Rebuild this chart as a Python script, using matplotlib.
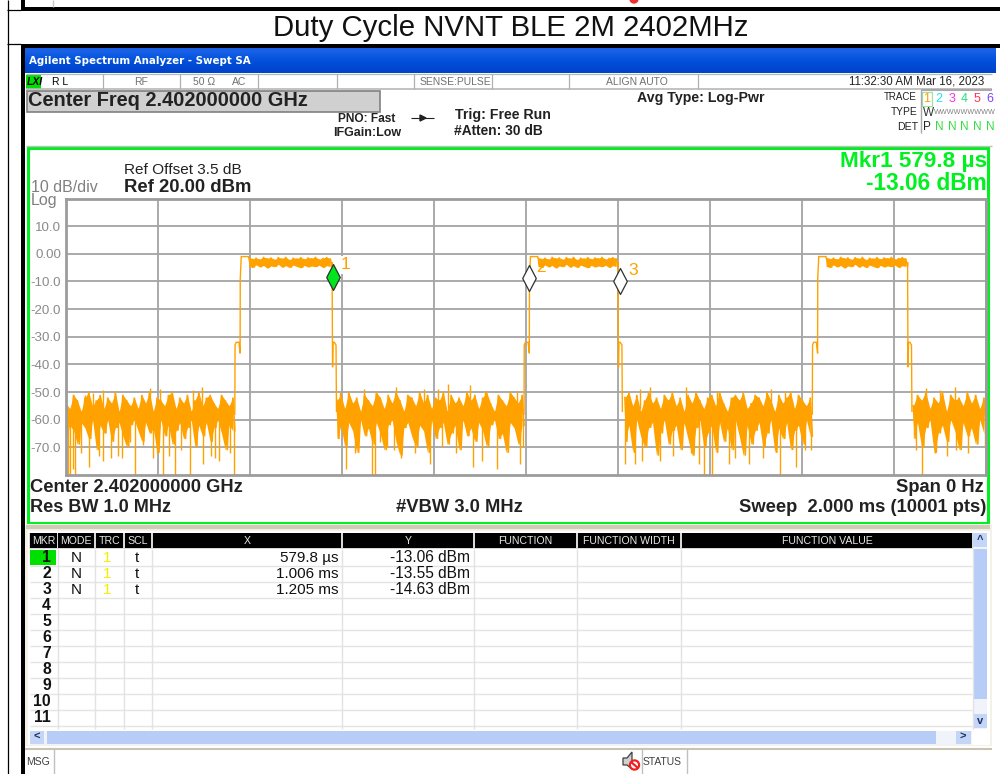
import numpy as np
import matplotlib
matplotlib.use('Agg')
import matplotlib.pyplot as plt
from matplotlib.patches import Rectangle, Polygon, Circle
from matplotlib.path import Path

plt.rcParams['font.family'] = ['Liberation Sans', 'DejaVu Sans']

W, H = 1000, 774

# plot data, time in ms and level in dBm
y_ticks = [10, 0, -10, -20, -30, -40, -50, -60, -70]
y_tick_labels = ['10.0', '0.00', '-10.0', '-20.0', '-30.0', '-40.0', '-50.0', '-60.0', '-70.0']

noise_1 = [-54, -66, -56, -62, -51, -64, -53, -69, -57, -61, -52, -63, -50, -67, -55, -60, -53, -71, -51, -62,
           -56, -65, -52, -60, -54, -68, -50, -63, -57, -61, -51, -66, -53, -70, -55, -62, -52, -60, -56, -64,
           -51, -68, -54, -61, -50, -65, -57, -63, -52, -72, -53, -60, -55, -66, -51, -62, -50, -69, -56, -64,
           -52, -61, -54, -67, -51, -63, -57, -60, -53, -70, -50, -62, -55, -66, -52, -61, -51, -68, -54, -63,
           -56, -60, -51, -65, -53, -71, -55, -62, -52, -64]
noise_2 = [-53, -67, -51, -62, -56, -70, -50, -61, -54, -64, -52, -72, -57, -60, -51, -66, -53, -63, -55, -69,
           -50, -61, -52, -65, -56, -71, -51, -62, -54, -60, -50, -68, -53, -73, -57, -63, -51, -61, -52, -66,
           -55, -70, -50, -62, -54, -64, -51, -72, -56, -60, -52, -67, -53, -63, -50, -61, -57, -69, -51, -65,
           -54, -62, -52, -71, -55, -60, -50, -66, -53, -63, -51, -68, -56, -61, -52, -64, -50, -70, -54, -62,
           -57, -60, -51, -67, -53, -65, -55, -72, -50, -61, -52, -63, -54, -69, -51, -62]
noise_3 = [-52, -68, -50, -62, -55, -72, -51, -60, -57, -66, -53, -70, -50, -63, -54, -61, -52, -73, -56, -65,
           -51, -60, -53, -69, -50, -64, -55, -62, -52, -71, -57, -61, -51, -67, -54, -73, -50, -63, -53, -60,
           -56, -70, -52, -65, -51, -62, -55, -72, -50, -61, -54, -68, -57, -63, -52, -71, -51, -60, -53, -66,
           -50, -73, -56, -62, -54, -69, -51, -64, -52, -61, -55, -70, -50, -65, -53, -60, -57, -72, -51, -63,
           -54, -67, -52, -61, -50, -71, -56, -64, -51, -62, -53, -69, -55, -60, -52, -66]
noise_4 = [-55, -67, -51, -61, -53, -70, -50, -63, -56, -60, -52, -72, -54, -65, -50, -62, -57, -68, -51, -60,
           -53, -64, -52, -71, -55, -61, -50, -66, -54, -63, -51, -69, -56, -60, -52, -65]
noise_spans = [(0.0, 0.367), (0.589, 0.9957), (1.215, 1.6224), (1.842, 2.0)]

low_spike_t = [.005, .009, .015, .020, .033, .050, .072, .080, .098, .113, .122, .139, .150, .167, .189, .198,
               .211, .224, .237, .250, .270, .298, .315, .324, .333, .357, .365,
               .608, .628, .665, .671, .683, .697, .713, .728, .759, .791, .817, .848, .884, .904, .938, .956,
               .988, .993,
               1.216, 1.238, 1.252, 1.291, 1.320, 1.358, 1.375, 1.386, 1.404, 1.441, 1.454, 1.485, 1.515, 1.552,
               1.587, 1.607, 1.620,
               1.847, 1.861, 1.889, 1.915, 1.935, 1.960, 1.998]
low_spike_db = [-80, -80, -78, -80, -72, -77, -73, -75, -74, -73, -74, -68, -80, -69, -74, -72,
                -80, -73, -80, -71, -80, -76, -73, -74, -75, -72, -80,
                -78, -72, -80, -80, -68, -70, -71, -74, -72, -76, -70, -72, -77, -75, -78, -71,
                -76, -70,
                -76, -76, -75, -75, -73, -72, -76, -80, -80, -76, -74, -76, -74, -80,
                -77, -71, -71,
                -71, -80, -72, -73, -71, -72, -70]
high_spike_t = [.041, .059, .080, .183, .204, .276, .295,
                .596, .648, .717, .778, .809, .830, .878, .911, .980,
                1.248, 1.270, 1.348, 1.415, 1.532, 1.563,
                1.870, 1.900, 1.933]
high_spike_db = [-51, -50.3, -49.4, -48.5, -49, -49.2, -48,
                 -50, -49, -48, -49, -48.8, -47, -47.6, -49.5, -49.5,
                 -49, -48, -48.2, -49.5, -48.8, -49.5,
                 -48.5, -49.4, -48]

pulse_start = [0.367, 0.9957, 1.6224]
pulse_stop = [0.5785, 1.2, 1.8295]
rise_dt = [0, .0005, .003, .009, .0115, .0118, .014, .030]
rise_db = [-58, -33, -32, -32, -36, -9, -1, -1]
fall_dt = [0, .0005, .001, .002, .005, .0085, .0095]
fall_db = [-3, -25, -41, -32, -32, -33, -57]
top_band = [-1.2, -4.5, -1.8, -5, -1.4, -4, -2, -4.8, -1.1, -4.2, -1.6, -5.2, -1.3, -4.4, -2.1, -4.7, -1.2, -3.8,
            -1.7, -4.9, -1.1, -4.3, -2.2, -5, -1.4, -4.1, -1.7, -4.6, -1.2, -5.1, -1.9, -4.2, -1.3, -4.8, -1.6, -4.4,
            -1.1, -4.7, -2, -4.1, -1.5, -5, -1.2, -4.3, -1.7, -4.6]

marker_t = [0.5798, 1.006, 1.205]
marker_db = [-13.06, -13.55, -14.63]
marker_names = ['1', '2', '3']
marker_fill = ['#00E61E', 'white', 'white']

# marker table
table_heads = ['MKR', 'MODE', 'TRC', 'SCL', 'X', 'Y', 'FUNCTION', 'FUNCTION WIDTH', 'FUNCTION VALUE']
table_x_text = ['579.8 µs', '1.006 ms', '1.205 ms']
table_y_text = ['-13.06 dBm', '-13.55 dBm', '-14.63 dBm']
head_left = [30, 58, 96, 125, 153, 343, 475, 578, 682]
head_right = [57, 94, 123, 151, 341, 473, 576, 680, 972]

# status row
status_sep = [103, 180, 258, 337, 414, 492, 569, 698]
status_labels = ['RF', '50 Ω', 'AC', 'SENSE:PULSE', 'ALIGN AUTO']
status_x = [141, 204, 239, 455, 637]
trace_digits = ['1', '2', '3', '4', '5', '6']
trace_colors = ['#FFA000', '#22E0FF', '#FF30E0', '#20E080', '#FF3060', '#8040FF']

fig = plt.figure(figsize=(W / 100, H / 100), dpi=100, facecolor='white')
bg = fig.add_axes([0, 0, 1, 1])
bg.set_xlim(0, W)
bg.set_ylim(H, 0)
bg.axis('off')


def box(x0, y0, x1, y1, color, **kw):
    bg.add_patch(Rectangle((x0, y0), x1 - x0, y1 - y0, facecolor=color, edgecolor='none', **kw))


def line(x0, y0, x1, y1, color='#C8C8C8', lw=1.0):
    bg.plot([x0, x1], [y0, y1], color=color, lw=lw, solid_capstyle='butt')


def txt(x, y, s, size=10, color='black', ha='left', weight='normal', **kw):
    bg.text(x, y, s, fontsize=size, color=color, ha=ha, va='center', fontweight=weight, **kw)


# document table around the screenshot
line(7.5, 0, 7.5, H, 'black', 0.9)
box(21, 0, 25, 8, 'black')
line(53, 0, 53, 7, '#C8C8C8')
box(21, 7, W, 10.5, 'black')
line(7, 10, 21, 10, 'black', 0.9)
line(7, 44, 21, 44, 'black', 0.9)
box(21, 44, W, 48, 'black')
box(21, 48, 25, H, 'black')
bg.add_patch(Circle((634, -1), 4, color='#F03030'))
txt(510.5, 28, 'Duty Cycle NVNT BLE 2M 2402MHz', size=21.15, ha='center', color='#111111')

# window title bar
bar_colors = np.array([[0.10, 0.38, 0.90], [0.03, 0.34, 0.88], [0.0, 0.30, 0.85], [0.0, 0.27, 0.80]])
bg.imshow(bar_colors[:, None, :], extent=(25, 996, 73, 48), aspect='auto', interpolation='bilinear', zorder=1)
bg.set_xlim(0, W)
bg.set_ylim(H, 0)
txt(29, 61, 'Agilent Spectrum Analyzer - Swept SA', size=7.4, color='white', weight='bold',
    family=['DejaVu Sans'], zorder=2)

# status row
box(25, 73, 993, 145, 'white')
line(26, 74, 992, 74, '#B8B8B8', 0.9)
line(26, 89, 992, 89, '#B8B8B8', 1.2)
for sx in status_sep:
    line(sx, 74, sx, 89, '#B0B0B0', 0.9)
box(26, 75, 41, 89, '#00E000')
txt(27, 82, 'LXI', size=7.5, weight='bold', style='italic')
txt(52, 82, 'R L', size=7.5)
for sx, label in zip(status_x, status_labels):
    txt(sx, 82, label, size=7.5, ha='center', color='#707070')
txt(984, 82, '11:32:30 AM Mar 16, 2023', size=8.3, ha='right', color='#222222')

# settings block
bg.add_patch(Rectangle((26.5, 91), 353, 21, facecolor='#D0D0D0', edgecolor='#808080', lw=1.2))
txt(27.5, 101, 'Center Freq 2.402000000 GHz', size=14.4, weight='bold', color='#222222')
txt(395, 119.5, 'PNO: Fast', size=8.6, weight='bold', ha='right', color='#222222')
txt(401, 133.5, 'IFGain:Low', size=9, weight='bold', ha='right', color='#222222')
line(411, 118, 434, 118, '#222222', 0.8)
bg.add_patch(Polygon([[420, 115], [420, 121], [426, 118]], color='#222222'))
txt(455, 114.5, 'Trig: Free Run', size=10.2, weight='bold', color='#222222')
txt(454, 131, '#Atten: 30 dB', size=9.9, weight='bold', color='#222222')
txt(637, 98, 'Avg Type: Log-Pwr', size=10.2, weight='bold', color='#222222')
txt(917, 97, 'TRACE', size=7.0, ha='right', color='#222222')
txt(918, 112, 'TYPE', size=7.4, ha='right', color='#222222')
txt(918, 127.5, 'DET', size=7.6, ha='right', color='#222222')
line(921, 90, 992, 90, '#A8A8A8', 1.5)
line(921, 90, 921, 133, '#A8A8A8', 1.0)
bg.add_patch(Rectangle((922, 92), 10, 14, facecolor='white', edgecolor='#A0E0A0', lw=0.9))
for i, digit in enumerate(trace_digits):
    dx = 926.5 + i * 12.6
    txt(dx, 99.5, digit, size=9, ha='center', color=trace_colors[i])
    if i == 0:
        txt(dx, 127, 'P', size=8.5, ha='center', color='#222222')
    else:
        txt(dx + 0.5, 127, 'N', size=8.5, ha='center', color='#30E040')
txt(923, 113, 'W', size=8.5, color='#333333')
txt(934, 113, 'WWWWWWWWW', size=5.2, color='#808080')

# green frame
line(26, 145.5, 992, 145.5, '#C0C0C0', 1.0)
bg.add_patch(Rectangle((28, 148), 960, 374.5, facecolor='white', edgecolor='#00F020', lw=2.2))
txt(987, 162, 'Mkr1 579.8 µs', size=16.2, weight='bold', ha='right', color='#00F020')
txt(987, 183, '-13.06 dBm', size=16.3, weight='bold', ha='right', color='#00F020')
txt(124.5, 170, 'Ref Offset 3.5 dB', size=11.1, color='#222222')
txt(124.5, 187.5, 'Ref 20.00 dBm', size=13.3, weight='bold', color='#222222')
txt(31, 188, '10 dB/div', size=11.5, color='#808080')
txt(31, 201, 'Log', size=11.5, color='#808080')
txt(30, 487, 'Center 2.402000000 GHz', size=13.2, weight='bold', color='#222222')
txt(30, 508, 'Res BW 1.0 MHz', size=13.1, weight='bold', color='#222222')
txt(396, 508, '#VBW 3.0 MHz', size=13.2, weight='bold', color='#222222')
txt(984, 487, 'Span 0 Hz', size=13.2, weight='bold', ha='right', color='#222222')
txt(739, 508, 'Sweep  2.000 ms (10001 pts)', size=13.2, weight='bold', color='#222222')

# trace axes
ax = fig.add_axes([66 / W, 1 - 475 / H, 920 / W, 276.5 / H], zorder=2)
ax.set_xlim(0, 2)
ax.set_ylim(-80, 20)
ax.set_xticks(np.arange(0, 2.01, 0.2))
ax.set_yticks(y_ticks)
ax.set_yticklabels(y_tick_labels, fontsize=9.6, color='#8A8A8A')
ax.tick_params(axis='both', length=0, which='both', labelbottom=False, pad=3.6)
ax.grid(True, color='#A4A4A4', lw=1.3)
ax.set_axisbelow(True)
for side in ax.spines.values():
    side.set_color('#9C9C9C')
    side.set_linewidth(2.0)

orange = '#FFA200'
for span, noise in zip(noise_spans, [noise_1, noise_2, noise_3, noise_4]):
    noise_t = np.linspace(span[0], span[1], len(noise))
    ax.fill_between(noise_t[::2], noise[::2], noise[1::2], color=orange, lw=0)
    ax.plot(noise_t, noise, color=orange, lw=1.2, solid_joinstyle='miter')
ax.vlines(low_spike_t, -60, low_spike_db, color=orange, lw=1.0)
ax.vlines(high_spike_t, -56, high_spike_db, color=orange, lw=1.0)

for start, stop in zip(pulse_start, pulse_stop):
    top_t = np.linspace(start + rise_dt[-1], stop, len(top_band))
    t = np.concatenate([start + np.array(rise_dt), top_t, stop + np.array(fall_dt)])
    db = np.concatenate([rise_db, top_band, fall_db])
    ax.fill_between(top_t[::2], top_band[::2], top_band[1::2], color=orange, lw=0)
    ax.plot(t, db, color=orange, lw=1.0, solid_joinstyle='miter')

# diamond with its lower tip on the marker value
tip_diamond = Path([(0, 0), (-6.8, 13), (0, 26), (6.8, 13), (0, 0)], closed=True)
for mt, mdb, name, fill in zip(marker_t, marker_db, marker_names, marker_fill):
    ax.plot([mt], [mdb], marker=tip_diamond, markersize=37.4, markerfacecolor=fill,
            markeredgecolor='#303030', markeredgewidth=0.9, ls='none', clip_on=False, zorder=5)
    ax.annotate(name, (mt, mdb), xytext=(5.5, 18 if name == '1' else 17), textcoords='offset points',
                fontsize=12.5, color=orange, va='center', ha='left', zorder=6,
                bbox=dict(facecolor='white', edgecolor='none', pad=1.0) if name == '1' else None)

# marker table
box(25, 524, 992, 746, '#F4F2E8')
box(28, 531, 990, 745, 'white')
line(26, 527, 990, 527, '#CFCBB8', 3)
box(29, 533, 973, 549, '#D8D8D8')
for left, right, head in zip(head_left, head_right, table_heads):
    box(left, 533, right, 548, 'black')
    txt((left + right) / 2, 540.5, head, size=7.6, ha='center', color='#E8E8E8')
box(30, 549.5, 56, 564.5, '#00E000')
row_lines = [565.5, 581.5, 597.5, 613.5, 629.5, 645.5, 661.5, 677.5, 693.5, 709.5, 725.5]
for i, ry in enumerate(row_lines):
    line(30, ry, 972, ry, '#E4E4E4', 1.0)
    txt(51, ry - 7.5, str(i + 1), size=11.3, ha='right', weight='bold', color='#111111')
for sep in head_right:
    line(sep + 0.5, 549, sep + 0.5, 729, '#E2E2E2', 1.0)
for i in range(3):
    ry = row_lines[i] - 7.5
    txt(76, ry, 'N', size=11, ha='center', color='#111111')
    txt(107, ry, '1', size=11, ha='center', color='#F0F000')
    txt(137, ry, 't', size=11, ha='center', color='#111111')
    txt(338, ry, table_x_text[i], size=11, ha='right', color='#111111')
    txt(470, ry, table_y_text[i], size=11.2, ha='right', color='#111111')

# scroll bars
sb = '#B7CDF7'
box(30, 731, 972, 744.5, '#F0F3FA')
box(30, 731, 44, 744, '#C4D6F8')
box(47, 731, 936, 744, sb)
box(956, 731, 971, 744, '#C4D6F8')
txt(37, 737, '<', size=8, ha='center', weight='bold', color='#203060')
txt(963, 737, '>', size=8, ha='center', weight='bold', color='#203060')
box(973, 533, 987, 729, '#F0F3FA')
box(973, 533, 987, 547, '#C4D6F8')
box(973, 549, 987, 699, sb)
box(973, 714, 987, 728, '#C4D6F8')
txt(980, 540, '^', size=8, ha='center', weight='bold', color='#203060')
txt(980, 721, 'v', size=8, ha='center', weight='bold', color='#203060')

# bottom bar
box(25, 746, 1000, 774, 'white')
line(25, 749, 992, 749, '#C8C4B0', 1.5)
line(53.5, 749, 53.5, H, '#C0C0C0')
line(642, 749, 642, H, '#C0C0C0')
line(687, 749, 687, H, '#C0C0C0')
txt(26, 762, 'MSG', size=7.5, color='#404040')
txt(643, 762, 'STATUS', size=7.5, color='#404040')
bg.add_patch(Polygon([[623, 758], [627, 758], [632, 752], [632, 769], [627, 765], [623, 765]],
                     facecolor='#D0D0D0', edgecolor='#404040', lw=0.9))
bg.add_patch(Circle((634.5, 765), 4.6, facecolor='white', edgecolor='#F02020', lw=1.6))
line(631, 762, 638, 768, '#F02020', 1.6)

fig.savefig('out.png', dpi=100)
